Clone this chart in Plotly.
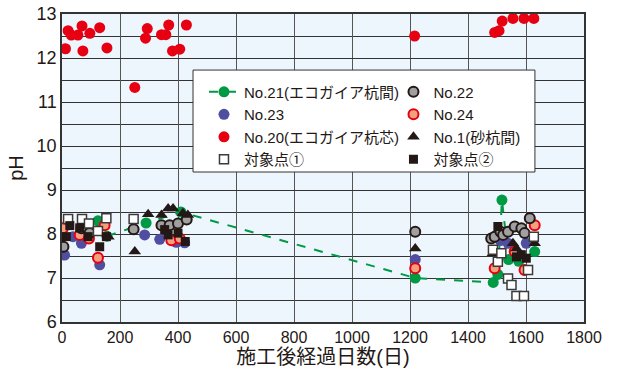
import plotly.graph_objects as go

# ---- data (days after construction, pH) ----
no21_x = [124, 155, 290, 410, 1218, 1487, 1503, 1517, 1540, 1575, 1630]
no21_y = [8.30, 7.95, 8.25, 8.50, 7.00, 6.90, 7.08, 8.77, 7.42, 7.38, 7.60]

no22_x = [5, 67, 95, 247, 343, 371, 400, 430, 1218, 1480, 1492, 1512, 1521, 1538, 1561, 1584, 1595, 1613]
no22_y = [7.71, 8.13, 8.02, 8.11, 8.20, 8.20, 8.24, 8.33, 8.05, 7.90, 7.94, 8.05, 7.98, 8.05, 8.17, 8.13, 8.02, 8.36]

no23_x = [9, 38, 67, 130, 285, 337, 394, 423, 1218, 1512, 1538, 1601]
no23_y = [7.52, 7.94, 7.79, 7.30, 7.98, 7.88, 7.81, 7.80, 7.42, 7.85, 7.79, 7.79]

no24_x = [3, 61, 93, 124, 147, 377, 406, 1218, 1492, 1561, 1595, 1630]
no24_y = [8.13, 7.98, 7.90, 7.46, 8.20, 7.86, 7.90, 7.22, 7.22, 7.60, 7.18, 8.20]

no20_x = [12, 21, 32, 55, 69, 72, 96, 130, 155, 251, 288, 294, 343, 358, 368, 381, 406, 429,
          1216, 1492, 1507, 1518, 1555, 1593, 1627]
no20_y = [12.21, 12.62, 12.52, 12.52, 12.73, 12.16, 12.56, 12.69, 12.23, 11.33, 12.45, 12.67, 12.53, 12.53,
          12.75, 12.16, 12.20, 12.75, 12.50, 12.58, 12.62, 12.84, 12.90, 12.90, 12.90]

no1_x = [160, 251, 297, 343, 366, 383, 417, 434, 1218, 1486, 1555, 1567, 1630]
no1_y = [7.94, 7.60, 8.45, 8.43, 8.58, 8.58, 8.47, 8.43, 7.67, 7.56, 7.79, 7.67, 7.79]

pt1_x = [21, 69, 93, 124, 153, 247, 1486, 1503, 1515, 1538, 1550, 1567, 1593, 1607, 1627]
pt1_y = [8.34, 8.34, 8.24, 8.07, 8.36, 8.34, 7.64, 7.37, 7.56, 6.99, 6.84, 6.59, 6.59, 7.18, 7.94]

pt2_x = [15, 27, 61, 90, 130, 153, 354, 366, 400, 425, 1503, 1567, 1584, 1601]
pt2_y = [7.94, 8.19, 8.14, 7.94, 7.71, 7.94, 8.10, 7.98, 8.02, 7.83, 8.17, 7.48, 7.53, 7.45]

x_ticks = [0, 200, 400, 600, 800, 1000, 1200, 1400, 1600, 1800]
y_ticks = [6, 7, 8, 9, 10, 11, 12, 13]

FONT = "Liberation Sans, Noto Sans CJK JP, sans-serif"
DARK = "#231815"

fig = go.Figure()

fig.add_trace(go.Scatter(
    x=no21_x, y=no21_y, mode="lines+markers", name="No.21(エコガイア杭間)",
    line=dict(color="#009944", width=2, dash="dash"),
    marker=dict(color="#009944", size=11), legend="legend", legendrank=1))
fig.add_trace(go.Scatter(
    x=no23_x, y=no23_y, mode="markers", name="No.23",
    marker=dict(color="#4f4ea0", size=11), legend="legend", legendrank=2))
fig.add_trace(go.Scatter(
    x=no24_x, y=no24_y, mode="markers", name="No.24",
    marker=dict(color="#f3a07f", size=10, line=dict(color="#e60012", width=2)),
    legend="legend2", legendrank=2))
fig.add_trace(go.Scatter(
    x=no22_x, y=no22_y, mode="markers", name="No.22",
    marker=dict(color="#a0a0a0", size=10, line=dict(color=DARK, width=2)),
    legend="legend2", legendrank=1))
fig.add_trace(go.Scatter(
    x=no20_x, y=no20_y, mode="markers", name="No.20(エコガイア杭芯)",
    marker=dict(color="#e60012", size=11), legend="legend", legendrank=3))
fig.add_trace(go.Scatter(
    x=no1_x, y=no1_y, mode="markers", name="No.1(砂杭間)",
    marker=dict(color=DARK, size=11, symbol="triangle-up"), legend="legend2", legendrank=3))
fig.add_trace(go.Scatter(
    x=pt1_x, y=pt1_y, mode="markers", name="対象点①",
    marker=dict(color="white", size=9, symbol="square", line=dict(color="#3a3a3a", width=1.5)),
    legend="legend", legendrank=4))
fig.add_trace(go.Scatter(
    x=pt2_x, y=pt2_y, mode="markers", name="対象点②",
    marker=dict(color=DARK, size=9, symbol="square"), legend="legend2", legendrank=4))

legend_common = dict(
    orientation="v", yanchor="top", xanchor="left",
    bgcolor="rgba(0,0,0,0)", borderwidth=0,
    font=dict(size=15, family=FONT, color=DARK), itemwidth=30)

fig.update_layout(
    width=618, height=374,
    margin=dict(l=62, r=34, t=14, b=52, autoexpand=False),
    paper_bgcolor="white", plot_bgcolor="#eef6fd",
    font=dict(family=FONT, color=DARK, size=16),
    legend=dict(x=0.272, y=0.80, **legend_common),
    legend2=dict(x=0.635, y=0.80, **legend_common),
    shapes=[dict(type="rect", xref="paper", yref="paper",
                 x0=0.251, x1=0.906, y0=0.487, y1=0.818,
                 fillcolor="white", line=dict(color="#333333", width=1), layer="above")],
    xaxis=dict(
        range=[0, 1800], tickvals=x_ticks, ticktext=[str(v) for v in x_ticks],
        showgrid=True, gridcolor="#555555", gridwidth=1, automargin=False,
        showline=True, linecolor="#333333", linewidth=1.5, mirror=True,
        zeroline=False, ticks="", tickfont=dict(size=16, family=FONT),
        ticklabeloverflow="allow",
        title=dict(text="施工後経過日数(日)", font=dict(size=20, family=FONT), standoff=4)),
    yaxis=dict(
        range=[6, 13], tickvals=y_ticks, ticktext=[str(v) for v in y_ticks],
        showgrid=True, gridcolor="#333333", gridwidth=1, automargin=False,
        minor=dict(dtick=0.5, showgrid=True, gridcolor="#333333", gridwidth=1),
        showline=True, linecolor="#333333", linewidth=1.5, mirror=True,
        zeroline=False, ticks="", tickfont=dict(size=18, family=FONT),
        ticklabeloverflow="allow",
        title=dict(text="pH", font=dict(size=20, family=FONT), standoff=8)),
)

fig.write_html("out.html", config={"displayModeBar": False},
               post_script="document.body.style.margin='0';")
